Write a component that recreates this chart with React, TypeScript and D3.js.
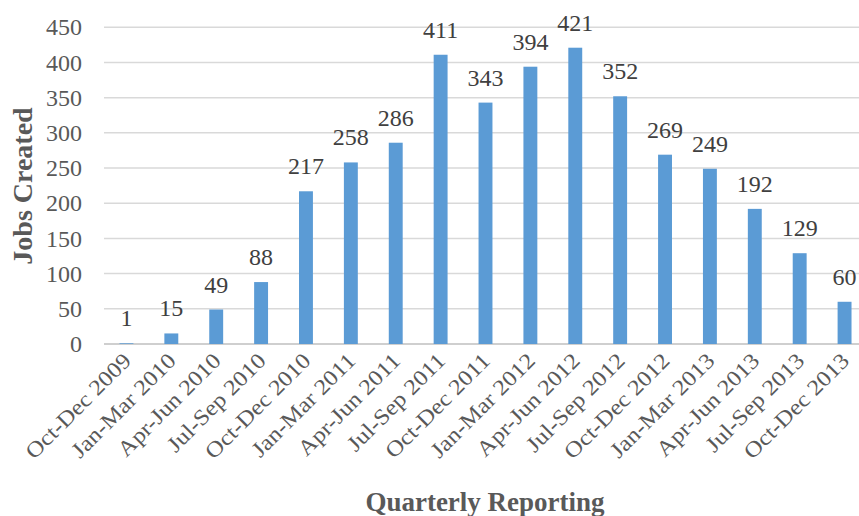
import React, { useRef, useEffect } from "react";
import * as d3 from "d3";

const quarters = [
  "Oct-Dec 2009", "Jan-Mar 2010", "Apr-Jun 2010", "Jul-Sep 2010",
  "Oct-Dec 2010", "Jan-Mar 2011", "Apr-Jun 2011", "Jul-Sep 2011",
  "Oct-Dec 2011", "Jan-Mar 2012", "Apr-Jun 2012", "Jul-Sep 2012",
  "Oct-Dec 2012", "Jan-Mar 2013", "Apr-Jun 2013", "Jul-Sep 2013",
  "Oct-Dec 2013",
];
const jobsCreated = [1, 15, 49, 88, 217, 258, 286, 411, 343, 394, 421, 352, 269, 249, 192, 129, 60];
const yTicks = [0, 50, 100, 150, 200, 250, 300, 350, 400, 450];

const font = "'Liberation Serif', 'Times New Roman', serif";

const App = () => {
  const svgRef = useRef<SVGSVGElement>(null);

  useEffect(() => {
    if (!svgRef.current) return;
    document.body.style.margin = "0";

    const width = 859;

    const svg = d3.select(svgRef.current);
    svg.selectAll("*").remove();

    const data = quarters.map((q, i) => ({ q, v: jobsCreated[i] }));

    const x = d3.scaleBand().domain(quarters).range([104, 867]).paddingInner(0.69).paddingOuter(0.345);
    const y = d3.scaleLinear().domain([0, 450]).range([344, 27.3]);

    // gridlines
    svg.append("g")
      .selectAll("line")
      .data(yTicks)
      .enter()
      .append("line")
      .attr("x1", 104)
      .attr("x2", width)
      .attr("y1", (d) => y(d))
      .attr("y2", (d) => y(d))
      .attr("stroke", (d) => (d === 0 ? "#cfcfcf" : "#d9d9d9"))
      .attr("stroke-width", (d) => (d === 0 ? 2 : 1.5));

    // y tick labels
    svg.append("g")
      .selectAll("text")
      .data(yTicks)
      .enter()
      .append("text")
      .attr("x", 82)
      .attr("y", (d) => y(d))
      .attr("dy", "0.34em")
      .attr("text-anchor", "end")
      .style("font-family", font)
      .style("font-size", "24px")
      .style("fill", "#595959")
      .text((d) => d);

    // bars
    svg.append("g")
      .selectAll("rect")
      .data(data)
      .enter()
      .append("rect")
      .attr("x", (d) => x(d.q)!)
      .attr("y", (d) => y(d.v))
      .attr("width", x.bandwidth())
      .attr("height", (d) => y(0) - y(d.v))
      .attr("fill", "#5b9bd5");

    // value labels
    svg.append("g")
      .selectAll("text")
      .data(data)
      .enter()
      .append("text")
      .attr("x", (d) => x(d.q)! + x.bandwidth() / 2)
      .attr("y", (d) => y(d.v) - 17)
      .attr("text-anchor", "middle")
      .style("font-family", font)
      .style("font-size", "24px")
      .style("fill", "#404040")
      .text((d) => d.v);

    // x tick labels (slightly stretched along the baseline like the original)
    svg.append("g")
      .selectAll("text")
      .data(data)
      .enter()
      .append("text")
      .attr("transform", (d) => `translate(${x(d.q)! + x.bandwidth() / 2 + 6},${362}) rotate(-45) scale(1.12,1)`)
      .attr("text-anchor", "end")
      .style("font-family", font)
      .style("font-size", "22px")
      .style("fill", "#595959")
      .text((d) => d.q);

    // axis titles
    svg.append("text")
      .attr("transform", `translate(32,186) rotate(-90)`)
      .attr("text-anchor", "middle")
      .style("font-family", font)
      .style("font-size", "28px")
      .style("font-weight", "bold")
      .style("fill", "#595959")
      .text("Jobs Created");

    svg.append("text")
      .attr("x", 485)
      .attr("y", 511)
      .attr("text-anchor", "middle")
      .style("font-family", font)
      .style("font-size", "27px")
      .style("font-weight", "bold")
      .style("fill", "#595959")
      .text("Quarterly Reporting");
  }, []);

  return <svg ref={svgRef} width={859} height={516} style={{ display: "block" }} />;
};

export default App;
